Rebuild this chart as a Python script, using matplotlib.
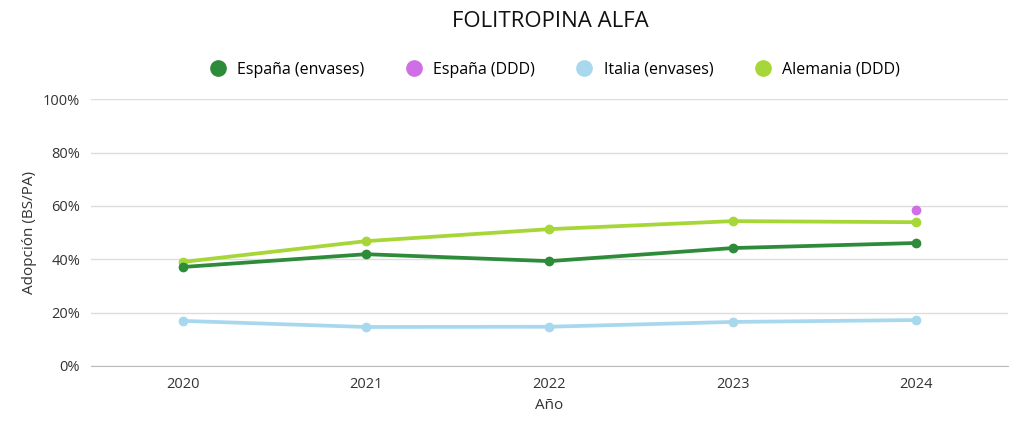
import numpy as np
import matplotlib.pyplot as plt
from matplotlib.ticker import PercentFormatter
from matplotlib.lines import Line2D

plt.rcParams['font.family'] = ['Open Sans', 'DejaVu Sans']

years = [2020, 2021, 2022, 2023, 2024]
espana_envases = [37.1, 41.9, 39.3, 44.2, 46.1]
espana_ddd = [np.nan, np.nan, np.nan, np.nan, 58.4]
italia_envases = [16.9, 14.6, 14.7, 16.5, 17.2]
alemania_ddd = [39.0, 46.8, 51.3, 54.3, 53.9]

labels = ['España (envases)', 'España (DDD)', 'Italia (envases)', 'Alemania (DDD)']
colors = ['#2e8b3a', '#cf6ee6', '#a8d8ee', '#a6d637']
series = [espana_envases, espana_ddd, italia_envases, alemania_ddd]

fig, ax = plt.subplots(figsize=(10.24, 4.26), dpi=100)
fig.subplots_adjust(left=0.089, right=0.984, top=0.767, bottom=0.141)

# draw in order so dark green sits on top like the original
for i in [2, 3, 0, 1]:
    ax.plot(years, series[i], color=colors[i], lw=2.7, marker='o', ms=6, zorder=3)

ax.set_xlim(2019.5, 2024.5)
ax.set_ylim(0, 100)
ax.set_xticks(years)
ax.set_yticks(range(0, 101, 20))
ax.yaxis.set_major_formatter(PercentFormatter(decimals=0))
ax.grid(axis='y', color='#dddddd', lw=1)
ax.set_axisbelow(True)
for s in ['top', 'right', 'left']:
    ax.spines[s].set_visible(False)
ax.spines['bottom'].set_color('#bbbbbb')
ax.tick_params(axis='both', length=0, labelsize=10.5, colors='#333333', pad=8)
ax.set_xlabel('Año', fontsize=11, color='#333333')
ax.set_ylabel('Adopción (BS/PA)', fontsize=11, color='#333333')

handles = [Line2D([], [], ls='', marker='o', ms=11, color=c) for c in colors]
fig.legend(handles, labels, loc='center', bbox_to_anchor=(0.538, 0.836), ncol=4,
           frameon=False, fontsize=11.5, handletextpad=0.2, columnspacing=2.1)
fig.text(0.537, 0.95, 'FOLITROPINA ALFA', ha='center', va='center',
         fontsize=16, color='#111111')

fig.savefig('out.png', dpi=100)
